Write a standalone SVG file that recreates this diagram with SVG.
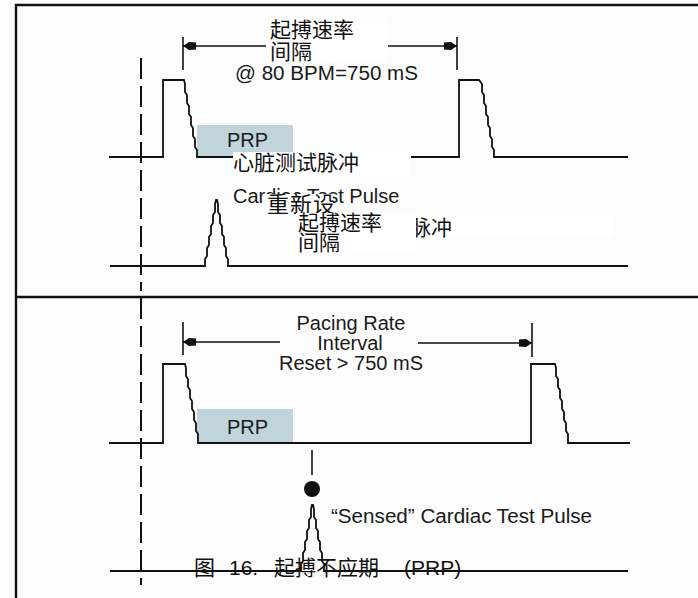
<svg xmlns="http://www.w3.org/2000/svg" width="698" height="598" viewBox="0 0 698 598">
  <style>
    .frame { stroke: #111; stroke-width: 2.4; fill: none; }
    .wave { stroke: #111; stroke-width: 1.8; fill: none; stroke-linejoin: miter; }
    .dim { stroke: #111; stroke-width: 1.6; fill: none; }
    .tick { stroke: #111; stroke-width: 1.6; }
    .dash { stroke: #111; stroke-width: 2; stroke-dasharray: 21 7; fill: none; }
    .prp { fill: #c1d3db; }
    .mask { fill: #ffffff; }
    .t { font-family: "Liberation Sans", "Noto Sans CJK SC", sans-serif; font-size: 20px; fill: #1a1a1a; }
    .zh { font-family: "Liberation Sans", "Noto Sans CJK SC", sans-serif; font-size: 21px; fill: #111; }
  </style>
  <defs>
    <marker id="arr" viewBox="-15 -6 16 12" markerWidth="16" markerHeight="12" refX="0" refY="0" markerUnits="userSpaceOnUse" orient="auto">
      <path d="M0,0 L-6,-4 L-13,-3.5 L-13,3.5 L-6,4 Z" fill="#111"/>
    </marker>
  </defs>

  <rect x="0" y="0" width="698" height="598" fill="#fcfcfc"/>

  <g id="frame">
    <path class="frame" d="M16,598 V5 H698"/>
    <line class="frame" x1="16" y1="297" x2="698" y2="297"/>
  </g>

  <g id="prp-boxes">
    <rect class="prp" x="197" y="125" width="96" height="32"/>
    <rect class="prp" x="197" y="409" width="96" height="34"/>
  </g>

  <g id="connectors">
    <line class="dash" x1="141" y1="58" x2="141" y2="291"/>
    <line class="dash" x1="141" y1="298" x2="141" y2="585"/>
    <line class="tick" x1="183" y1="37" x2="183" y2="70"/>
    <line class="tick" x1="457" y1="37" x2="457" y2="70"/>
    <line class="dim" x1="266" y1="46" x2="183" y2="46" marker-end="url(#arr)"/>
    <line class="dim" x1="388" y1="46" x2="457" y2="46" marker-end="url(#arr)"/>
    <line class="tick" x1="183" y1="322" x2="183" y2="355"/>
    <line class="tick" x1="532" y1="323" x2="532" y2="357"/>
    <line class="dim" x1="280" y1="342" x2="183" y2="342" marker-end="url(#arr)"/>
    <line class="dim" x1="418" y1="343" x2="532" y2="343" marker-end="url(#arr)"/>
    <line class="dim" x1="312" y1="450" x2="312" y2="475"/>
    <circle cx="312" cy="489" r="8" fill="#111"/>
  </g>

  <g id="pacing-top">
    <path class="wave" d="M109,157 H163 V80 H184 l1,4 v8 l2,3 v8 l2,3 v8 l2,3 v8 l2,3 v8 l2,3 v8 l2,3 v7 H459 V80 H479 l3,4 v8 l2,3 v8 l2,3 v8 l2,3 v8 l2,3 v8 l2,3 v8 l2,3 v7 H628"/>
  </g>
  <g id="test-pulse-top">
    <path class="wave" d="M110,266 H205 v-7 l2,-3 v-8 l2,-3 v-8 l2,-3 v-8 l2,-3 v-8 l2,-3 v-8 l1,-4 H217 l1,4 v8 l2,3 v8 l2,3 v8 l2,3 v8 l2,3 v8 l2,3 v7 H628"/>
  </g>
  <g id="pacing-bottom">
    <path class="wave" d="M109,443 H163 V364 H185 l1,4 v8 l2,3 v8 l2,3 v8 l2,3 v8 l2,3 v8 l2,3 v8 l2,3 v9 H531 V364 H555 l1,4 v8 l2,3 v8 l2,3 v8 l2,3 v8 l2,3 v8 l2,3 v8 l2,3 v9 H630"/>
  </g>
  <g id="test-pulse-bottom">
    <path class="wave" d="M110,571 H301 v-7 l2,-3 v-8 l2,-3 v-8 l2,-3 v-8 l2,-3 v-8 l2,-3 v-8 l1,-4 H313 l1,4 v8 l2,3 v8 l2,3 v8 l2,3 v8 l2,3 v8 l2,3 v7 H628"/>
  </g>

  <g id="label-cardiac-top">
    <text class="t" x="233" y="203">Cardiac Test Pulse</text>
  </g>
  <g id="label-pulse-partial">
    <rect class="mask" x="380" y="216" width="233" height="22"/>
    <text class="zh" x="410" y="235">脉冲</text>
  </g>

  <g id="overlay-rate-top">
    <rect class="mask" x="267" y="17" width="121" height="45"/>
    <text class="zh" x="270" y="37">起搏速率</text>
    <text class="zh" x="270" y="59">间隔</text>
  </g>
  <g id="label-bpm">
    <text class="t" x="235" y="80" textLength="183" lengthAdjust="spacingAndGlyphs">@ 80 BPM=750 mS</text>
  </g>
  <g id="label-prp-top">
    <text class="t" x="227" y="147">PRP</text>
  </g>
  <g id="overlay-heart">
    <rect class="mask" x="233" y="152" width="178" height="24"/>
    <text class="zh" x="233" y="170">心脏测试脉冲</text>
  </g>
  <g id="overlay-reset">
    <rect class="mask" x="265" y="194" width="68" height="19"/>
    <text class="zh" x="267" y="212" style="font-size:22px;letter-spacing:1px">重新设</text>
  </g>
  <g id="overlay-rate-mid">
    <rect class="mask" x="296" y="213" width="120" height="40"/>
    <text class="zh" x="298" y="230">起搏速率</text>
    <text class="zh" x="298" y="250">间隔</text>
  </g>

  <g id="label-interval-bottom">
    <text class="t" x="351" y="330" text-anchor="middle">Pacing Rate</text>
    <text class="t" x="350" y="350" text-anchor="middle">Interval</text>
    <text class="t" x="351" y="370" text-anchor="middle">Reset &gt; 750 mS</text>
  </g>
  <g id="label-prp-bottom">
    <text class="t" x="227" y="434">PRP</text>
  </g>
  <g id="label-sensed">
    <text class="t" x="331" y="523" textLength="261" lengthAdjust="spacingAndGlyphs">“Sensed” Cardiac Test Pulse</text>
  </g>
  <g id="caption">
    <text class="zh" y="575"><tspan x="194">图</tspan><tspan x="229">16.</tspan><tspan x="274">起搏不应期</tspan><tspan x="404">(PRP)</tspan></text>
  </g>
</svg>
